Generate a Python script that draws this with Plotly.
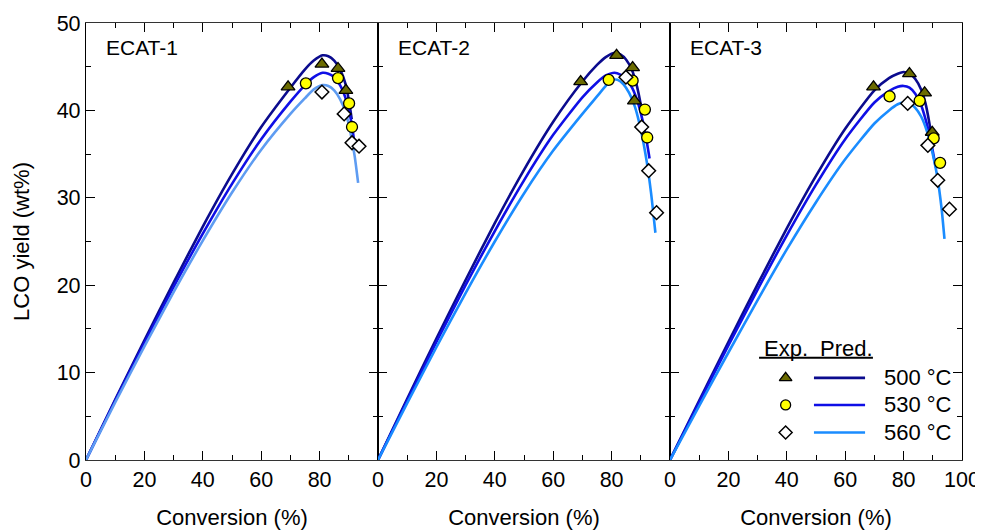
import plotly.graph_objects as go

FONT = "Liberation Sans, Arial, sans-serif"

panels = ["ECAT-1", "ECAT-2", "ECAT-3"]
temps = ["500 °C", "530 °C", "560 °C"]

# ---------------- experimental points ----------------
e1_500_x = [69.2, 80.8, 86.3, 89.0]; e1_500_y = [42.7, 45.3, 44.8, 42.3]
e1_530_x = [75.3, 86.3, 90.1, 91.1]; e1_530_y = [43.1, 43.7, 40.8, 38.1]
e1_560_x = [80.8, 88.4, 91.1, 93.5]; e1_560_y = [42.1, 39.6, 36.3, 35.9]

e2_500_x = [69.4, 81.7, 87.2, 87.8]; e2_500_y = [43.3, 46.3, 44.9, 41.1]
e2_530_x = [79.0, 87.2, 91.4, 92.2]; e2_530_y = [43.5, 43.4, 40.1, 36.9]
e2_560_x = [84.9, 90.3, 92.7, 95.4]; e2_560_y = [43.8, 38.1, 33.1, 28.3]

e3_500_x = [69.7, 82.0, 87.2, 89.8]; e3_500_y = [42.7, 44.2, 42.0, 37.5]
e3_530_x = [75.2, 85.5, 90.3, 92.5]; e3_530_y = [41.6, 41.1, 36.8, 34.0]
e3_560_x = [81.4, 88.3, 91.7, 95.7]; e3_560_y = [40.8, 36.0, 32.0, 28.7]

# ---------------- predicted curves ----------------
p1_500_x = [0, 10, 20, 30, 40, 50, 60, 70, 75, 78, 81, 83, 85, 87, 89, 90.2, 91]
p1_500_y = [0, 6.9, 13.7, 20.3, 26.7, 32.7, 38.1, 42.6, 44.7, 45.7, 46.3, 46.2, 45.7, 44.7, 42.9, 40.8, 39.0]
p1_530_x = [0, 10, 20, 30, 40, 50, 60, 70, 75, 78, 81, 83, 85, 87, 89, 90.5, 91.5, 92.2]
p1_530_y = [0, 6.8, 13.4, 19.8, 25.9, 31.6, 36.7, 41.0, 42.9, 43.8, 44.3, 44.2, 43.8, 42.9, 41.3, 39.3, 37.3, 35.5]
p1_560_x = [0, 10, 20, 30, 40, 50, 60, 70, 75, 78, 81, 83, 85, 87, 89, 90.5, 92, 93.2]
p1_560_y = [0, 6.6, 13.0, 19.2, 25.1, 30.6, 35.5, 39.6, 41.4, 42.4, 42.9, 42.8, 42.3, 41.3, 39.7, 37.6, 34.8, 31.7]

p2_500_x = [0, 10, 20, 30, 40, 50, 60, 70, 75, 78, 81, 83, 85, 87, 88.5, 89.8, 90.6]
p2_500_y = [0, 7.0, 13.9, 20.6, 27.1, 33.2, 38.7, 43.3, 45.2, 46.1, 46.6, 46.4, 45.8, 44.6, 43.0, 41.0, 39.5]
p2_530_x = [0, 10, 20, 30, 40, 50, 60, 70, 75, 78, 81, 83, 85, 87, 89, 90.5, 92, 93]
p2_530_y = [0, 6.8, 13.5, 20.0, 26.2, 32.0, 37.2, 41.5, 43.2, 44.0, 44.3, 44.1, 43.6, 42.6, 40.9, 39.0, 36.5, 34.5]
p2_560_x = [0, 10, 20, 30, 40, 50, 60, 70, 75, 78, 80, 82, 84, 86, 88, 90, 92, 93.5, 95]
p2_560_y = [0, 6.5, 12.9, 19.1, 25.0, 30.5, 35.4, 39.6, 41.6, 42.8, 43.5, 43.5, 43.0, 42.0, 40.4, 37.8, 34.2, 30.6, 26.0]

p3_500_x = [0, 10, 20, 30, 40, 50, 60, 70, 75, 78, 80, 82, 84, 86, 87.5, 88.8, 89.8]
p3_500_y = [0, 6.8, 13.5, 20.1, 26.5, 32.5, 37.9, 42.3, 43.7, 44.2, 44.4, 44.2, 43.6, 42.4, 40.8, 38.6, 36.5]
p3_530_x = [0, 10, 20, 30, 40, 50, 60, 70, 75, 78, 80, 82, 84, 86, 88, 89.5, 91]
p3_530_y = [0, 6.6, 13.1, 19.5, 25.7, 31.5, 36.7, 40.9, 42.2, 42.7, 42.8, 42.6, 41.9, 40.6, 38.4, 36.2, 33.5]
p3_560_x = [0, 10, 20, 30, 40, 50, 60, 70, 75, 78, 80, 82, 84, 86, 88, 90, 91.5, 93, 94]
p3_560_y = [0, 6.2, 12.3, 18.3, 24.1, 29.5, 34.4, 38.5, 40.0, 40.7, 40.9, 40.8, 40.3, 39.3, 37.6, 35.0, 32.5, 28.8, 25.3]

exp_sets = [
    [(e1_500_x, e1_500_y), (e1_530_x, e1_530_y), (e1_560_x, e1_560_y)],
    [(e2_500_x, e2_500_y), (e2_530_x, e2_530_y), (e2_560_x, e2_560_y)],
    [(e3_500_x, e3_500_y), (e3_530_x, e3_530_y), (e3_560_x, e3_560_y)],
]
pred_sets = [
    [(p1_500_x, p1_500_y), (p1_530_x, p1_530_y), (p1_560_x, p1_560_y)],
    [(p2_500_x, p2_500_y), (p2_530_x, p2_530_y), (p2_560_x, p2_560_y)],
    [(p3_500_x, p3_500_y), (p3_530_x, p3_530_y), (p3_560_x, p3_560_y)],
]

line_colors = [
    ["#0B0B8E", "#0F0FE6", "#5E9CF2"],
    ["#0B0B8E", "#0F0FE6", "#1A8CFF"],
    ["#0B0B8E", "#0F0FE6", "#1A8CFF"],
]
marker_styles = [
    dict(symbol="triangle-up", size=12, color="#6B6B00", line=dict(color="black", width=1.3)),
    dict(symbol="circle", size=11, color="#FFFF00", line=dict(color="black", width=1.3)),
    dict(symbol="diamond", size=10.5, color="white", line=dict(color="black", width=1.5)),
]

fig = go.Figure()

for p in range(3):
    xa = "x" if p == 0 else f"x{p+1}"
    ya = "y" if p == 0 else f"y{p+1}"
    for t in range(3):
        px_, py_ = pred_sets[p][t]
        fig.add_trace(go.Scatter(x=px_, y=py_, mode="lines", xaxis=xa, yaxis=ya,
                                 line=dict(color=line_colors[p][t], width=2.6, shape="spline", smoothing=0.6),
                                 showlegend=False, hoverinfo="skip"))
    for t in range(3):
        ex, ey = exp_sets[p][t]
        fig.add_trace(go.Scatter(x=ex, y=ey, mode="markers", xaxis=xa, yaxis=ya,
                                 marker=marker_styles[t], showlegend=False))

# ---------------- legend (in panel 3 data coordinates) ----------------
leg_rows_y = [9.4, 6.3, 3.15]
leg_marker_x = 39.6
leg_line_x0, leg_line_x1 = 49.3, 66.8
leg_text_x = 72.5
legend_line_colors = ["#0B0B8E", "#0F0FE6", "#1A8CFF"]
leg_marker_sizes = [11, 10, 10]

for t in range(3):
    st = dict(marker_styles[t])
    st["size"] = leg_marker_sizes[t]
    fig.add_trace(go.Scatter(x=[leg_marker_x], y=[leg_rows_y[t]], mode="markers",
                             xaxis="x3", yaxis="y3", marker=st, showlegend=False, hoverinfo="skip"))
    fig.add_shape(type="line", xref="x3", yref="y3", x0=leg_line_x0, x1=leg_line_x1,
                  y0=leg_rows_y[t], y1=leg_rows_y[t], line=dict(color=legend_line_colors[t], width=2.6))
    fig.add_annotation(xref="x3", yref="y3", x=leg_text_x, y=leg_rows_y[t], text=temps[t],
                       showarrow=False, xanchor="left", yanchor="middle",
                       font=dict(family=FONT, size=22, color="black"))

fig.add_annotation(xref="x3", yref="y3", x=39.6, y=12.75, text="Exp.", showarrow=False,
                   xanchor="center", yanchor="middle", font=dict(family=FONT, size=22, color="black"))
fig.add_annotation(xref="x3", yref="y3", x=60.6, y=12.75, text="Pred.", showarrow=False,
                   xanchor="center", yanchor="middle", font=dict(family=FONT, size=22, color="black"))
fig.add_shape(type="line", xref="x3", yref="y3", x0=30.5, x1=69.5, y0=11.7, y1=11.7,
              line=dict(color="black", width=1.8))

# panel labels
for p in range(3):
    xa = "x" if p == 0 else f"x{p+1}"
    ya = "y" if p == 0 else f"y{p+1}"
    fig.add_annotation(xref=f"{xa} domain", yref=f"{ya} domain", x=0.062, y=0.943,
                       text=panels[p], showarrow=False, xanchor="left", yanchor="middle",
                       font=dict(family=FONT, size=21, color="black"))

tick_font = dict(family=FONT, size=21.5, color="black")
title_font = dict(family=FONT, size=22, color="black")

x_tickvals_12 = [0, 20, 40, 60, 80]
x_tickvals_3 = [0, 20, 40, 60, 80, 100]
y_tickvals = [0, 10, 20, 30, 40, 50]

def xaxis_cfg(domain, anchor, tickvals):
    return dict(domain=domain, anchor=anchor, range=[0, 100], showgrid=False, zeroline=False,
                automargin=False,
                showline=True, linecolor="#333333", linewidth=1.3, mirror="ticks",
                ticks="inside", ticklen=9, tickwidth=1, tickcolor="black",
                tickvals=tickvals, tickfont=tick_font,
                minor=dict(ticks="inside", ticklen=5, tickcolor="black", tickwidth=1,
                           tickvals=[10, 30, 50, 70, 90], showgrid=False),
                title=dict(text="Conversion (%)", font=title_font, standoff=19))

def yaxis_cfg(anchor, labels):
    return dict(domain=[0, 1], anchor=anchor, range=[0, 50], showgrid=False, zeroline=False,
                automargin=False,
                showline=True, linecolor="black", linewidth=1.3, mirror="ticks",
                ticks="inside", ticklen=9, tickwidth=1, tickcolor="black",
                tickvals=y_tickvals, tickfont=tick_font, showticklabels=labels,
                minor=dict(ticks="inside", ticklen=5, tickcolor="black", tickwidth=1,
                           tickvals=[5, 15, 25, 35, 45], showgrid=False),
                title=dict(text="LCO yield (wt%)" if labels else "", font=title_font, standoff=20))

# page body has an 8px default margin, so the figure is sized/offset to compensate
fig.update_layout(
    width=975, height=522,
    margin=dict(l=78, r=21, t=15, b=70),
    paper_bgcolor="white", plot_bgcolor="white",
    font=dict(family=FONT, color="black"),
    xaxis=xaxis_cfg([0, 1/3], "y", x_tickvals_12),
    xaxis2=xaxis_cfg([1/3, 2/3], "y2", x_tickvals_12),
    xaxis3=xaxis_cfg([2/3, 1], "y3", x_tickvals_3),
    yaxis=yaxis_cfg("x", True),
    yaxis2=yaxis_cfg("x2", False),
    yaxis3=yaxis_cfg("x3", False),
    showlegend=False,
)

fig.write_html("out.html")
